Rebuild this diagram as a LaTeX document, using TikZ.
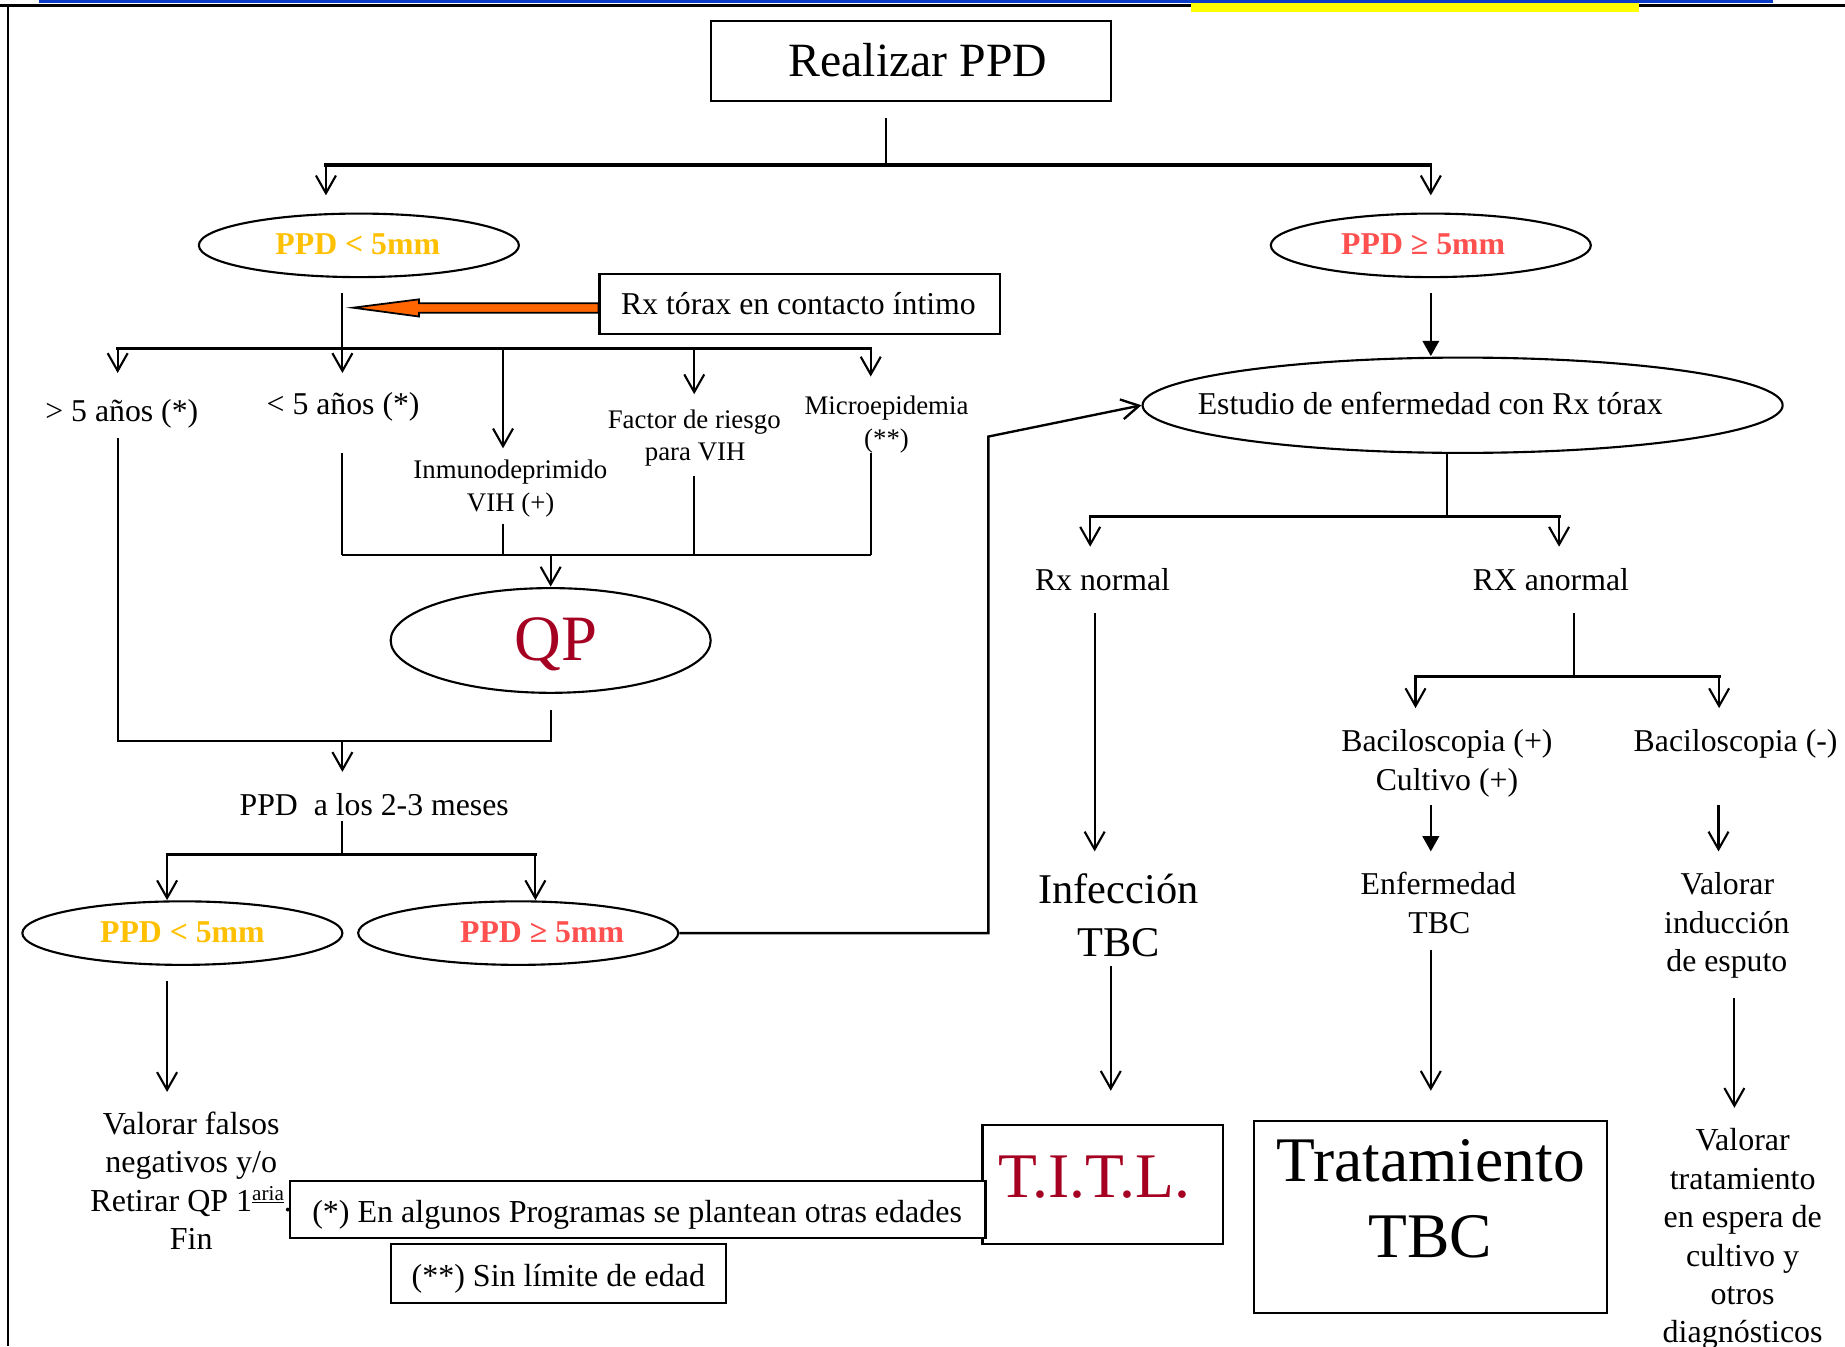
\documentclass[tikz,border=0pt]{standalone}
\usepackage{fontspec}
\setmainfont{Liberation Serif}
\usetikzlibrary{shapes.geometric,arrows.meta}
\definecolor{ytxt}{HTML}{FFC000}
\definecolor{rtxt}{HTML}{FF5050}
\definecolor{drtxt}{HTML}{A50021}
\definecolor{orarrow}{HTML}{FF6600}
\definecolor{topblue}{HTML}{0A3CC8}
\definecolor{topyellow}{HTML}{FFFF00}
\newcommand\fsz[1]{\fontsize{#1}{#1}\selectfont}
\begin{document}
\begin{tikzpicture}[x=1pt,y=-1pt,
  txt/.style={inner sep=0pt,anchor=base,font=\fsz{27}},
  stxt/.style={inner sep=0pt,anchor=base,font=\fsz{22.8}},
  btxt/.style={inner sep=0pt,anchor=base,font=\fsz{27.2}},
  frame/.style={draw,line width=1.8pt,inner sep=0pt,fill=white},
  ell/.style={draw,ellipse,line width=1.8pt,inner sep=0pt},
  vl/.style={line width=1.7pt},
  hl/.style={line width=2.6pt,line cap=rect},
  ar/.style={line width=1.8pt,-{Straight Barb[length=15pt,width=17pt]}},
  far/.style={line width=2pt,-{Triangle[length=13pt,width=14pt]}},
  ppdy/.style={txt,font=\bfseries\fsz{27},text=ytxt},
  ppdr/.style={txt,font=\bfseries\fsz{27},text=rtxt}
]
\useasboundingbox (0,0) rectangle (1568,1144);
\fill[white] (0,0) rectangle (1568,1144);

% top decoration and frame
\draw[line width=2pt] (0,4.6) -- (1568,4.6);
\fill[topblue] (33,0) rectangle (1507,2.9);
\fill[topyellow] (1012,2.9) rectangle (1393,9.9);
\draw[line width=1.8pt] (7,4) -- (7,1144);

% ---------- nodes ----------
\node[frame,minimum width=340pt,minimum height=68pt] (realbox) at (774,52) {};
\node[txt,font=\fsz{40.6}] (realtxt) at (780,65.2) {Realizar PPD};

\node[ell,minimum width=272pt,minimum height=54pt] (e1) at (305,208.5) {};
\node[ppdy] (e1t) at (304,216.2) {PPD < 5mm};
\node[ell,minimum width=272pt,minimum height=54pt] (e2) at (1216,208.5) {};
\node[ppdr] (e2t) at (1209.5,216.5) {PPD ≥ 5mm};

\node[frame,minimum width=340pt,minimum height=51pt] (rxbox) at (679.5,258.4) {};
\node[txt] (rxt) at (678.5,267.3) {Rx tórax en contacto íntimo};

\node[txt] (g5) at (103.5,358) {> 5 años (*)};
\node[txt] (l5) at (291.6,352.3) {< 5 años (*)};
\node[stxt] (inm1) at (433.7,407) {Inmunodeprimido};
\node[stxt] (inm2) at (434,434.4) {VIH (+)};
\node[stxt] (fac1) at (590,364) {Factor de riesgo};
\node[stxt] (fac2) at (590.8,391.4) {para VIH};
\node[stxt] (mic1) at (753.4,352.3) {Microepidemia};
\node[stxt] (mic2) at (753.4,380.6) {(**)};

\node[ell,minimum width=272pt,minimum height=89pt] (qp) at (468,544.3) {};
\node[txt,font=\fsz{55},text=drtxt] (qpt) at (472.4,561.3) {QP};

\node[txt] (ppd23) at (318,693) {PPD\ \ a los 2-3 meses};

\node[ell,minimum width=272pt,minimum height=54pt] (e3) at (155,793) {};
\node[ppdy] (e3t) at (155,800.9) {PPD < 5mm};
\node[ell,minimum width=272pt,minimum height=54pt] (e4) at (440.4,793) {};
\node[ppdr] (e4t) at (460.7,800.9) {PPD ≥ 5mm};

\node[ell,minimum width=544pt,minimum height=81pt] (est) at (1243,344.4) {};
\node[txt] (estt) at (1215.5,352.3) {Estudio de enfermedad con Rx tórax};

\node[txt] (rxn) at (937,501.6) {Rx normal};
\node[txt] (rxa) at (1318,501.6) {RX anormal};
\node[txt] (bp1) at (1229.7,638.4) {Baciloscopia (+)};
\node[txt] (bp2) at (1229.7,671.5) {Cultivo (+)};
\node[txt] (bn) at (1475,638.4) {Baciloscopia (-)};

\node[txt,font=\fsz{36}] (inf1) at (950.5,768) {Infección};
\node[txt,font=\fsz{36}] (inf2) at (950.7,812.7) {TBC};
\node[txt] (enf1) at (1222.4,760.5) {Enfermedad};
\node[txt] (enf2) at (1223.2,793.3) {TBC};
\node[txt] (vi1) at (1468,760.5) {Valorar};
\node[txt] (vi2) at (1467.6,793.3) {inducción};
\node[txt] (vi3) at (1467.6,825.5) {de esputo};

\node[frame,minimum width=204pt,minimum height=101pt] (titlbox) at (937,1006.5) {};
\node[txt,font=\fsz{54}] (titl) at (930,1018) {\color{drtxt}T.I.T.L.};
\node[frame,minimum width=300pt,minimum height=163pt] (tratbox) at (1216,1034.5) {};
\node[txt,font=\fsz{54}] (trat1) at (1216,1004.4) {Tratamiento};
\node[txt,font=\fsz{54}] (trat2) at (1215.6,1068.8) {TBC};

\node[btxt] (vt1) at (1481,977.5) {Valorar};
\node[btxt] (vt2) at (1481,1010.5) {tratamiento};
\node[btxt] (vt3) at (1481,1043.5) {en espera de};
\node[btxt] (vt4) at (1481,1076) {cultivo y};
\node[btxt] (vt5) at (1481,1108.5) {otros};
\node[btxt] (vt6) at (1481,1141) {diagnósticos};

\node[btxt] (vf1) at (162.5,964) {Valorar falsos};
\node[btxt] (vf2) at (162.5,996.7) {negativos y/o};
\node[btxt] (vf3) at (162.5,1029.3) {Retirar QP 1\raisebox{9pt}{\fsz{18}\underline{aria}}.};
\node[btxt] (vf4) at (162.5,1062) {Fin};

\node[frame,minimum width=591pt,minimum height=49pt] (n1box) at (542,1027.9) {};
\node[btxt] (n1) at (541.5,1039) {(*) En algunos Programas se plantean otras edades};
\node[frame,minimum width=285pt,minimum height=50.4pt] (n2box) at (474.5,1082.4) {};
\node[btxt] (n2) at (474.5,1093) {(**) Sin límite de edad};

% ---------- coordinates ----------
\coordinate (a0) at (753,100); \coordinate (a1) at (753,140.2);
\coordinate (aL) at (277,140.2); \coordinate (aR) at (1216,140.2);
\coordinate (aLt) at (277,166); \coordinate (aRt) at (1216,166);

\coordinate (b0) at (291,249); \coordinate (b1) at (291,296); \coordinate (bt) at (291,317);
\coordinate (bA) at (100,296); \coordinate (bAt) at (100,317);
\coordinate (bC) at (427.5,296); \coordinate (bCt) at (427.5,381);
\coordinate (bD) at (590,296); \coordinate (bDt) at (590,335);
\coordinate (bE) at (740,296); \coordinate (bEt) at (740,320);

\coordinate (c1) at (100,372); \coordinate (c2) at (291,385); \coordinate (c3) at (427.5,445);
\coordinate (c4) at (590,404.5); \coordinate (c5) at (740,385);
\coordinate (cB2) at (291,472); \coordinate (cB3) at (427.5,472); \coordinate (cB4) at (590,472);
\coordinate (cB5) at (740,472); \coordinate (cq) at (468,472); \coordinate (cqt) at (468,498.5);

\coordinate (d0) at (468,603); \coordinate (d1) at (468,630); \coordinate (d2) at (100,630);
\coordinate (dm) at (291,630); \coordinate (dmt) at (291,656);

\coordinate (f0) at (291,698); \coordinate (f1) at (291,726);
\coordinate (fL) at (142,726); \coordinate (fR) at (455,726);
\coordinate (fLt) at (142,765); \coordinate (fRt) at (455,765);

\coordinate (g0) at (142,834); \coordinate (gt) at (142,928);
\coordinate (h1) at (840,793); \coordinate (h2) at (840,371);

\coordinate (i0) at (1216,249); \coordinate (it) at (1216,302.6);
\coordinate (j0) at (1229.7,385); \coordinate (j1) at (1229.7,439);
\coordinate (jL) at (926.5,439); \coordinate (jR) at (1325,439);
\coordinate (jLt) at (926.5,464.6); \coordinate (jRt) at (1325,464.6);
\coordinate (k0) at (930.3,521); \coordinate (kt) at (930.3,723.6);
\coordinate (l0) at (1338,521); \coordinate (l1) at (1338,575);
\coordinate (lL) at (1203,575); \coordinate (lR) at (1461,575);
\coordinate (lLt) at (1203,601.8); \coordinate (lRt) at (1461,601.8);
\coordinate (m0) at (1216,684.4); \coordinate (mt) at (1216,723.6);
\coordinate (n0) at (1460.5,684.4); \coordinate (nt) at (1460.5,723.6);
\coordinate (o0) at (944,821); \coordinate (ot) at (944,927);
\coordinate (p0) at (1216,807); \coordinate (pt) at (1216,927);
\coordinate (q0) at (1474,848); \coordinate (qt) at (1474,941.5);

% ---------- connectors ----------
\draw[vl] (a0) -- (a1);
\draw[hl] (aL) -- (aR);
\draw[ar] (aL) -- (aLt);
\draw[ar] (aR) -- (aRt);

% orange arrow
\draw[fill=orarrow,line width=1.5pt,line join=miter]
  (rxbox.west |- 0,257.8) -- (356,257.8) -- (356,254.4) -- (300,261.5)
  -- (356,269) -- (356,265.7) -- (rxbox.west |- 0,265.7) -- cycle;

\draw[vl] (b0) -- (b1);
\draw[hl] (bA) -- (bE);
\draw[ar] (b1) -- (bt);
\draw[ar] (bA) -- (bAt);
\draw[ar] (bC) -- (bCt);
\draw[ar] (bD) -- (bDt);
\draw[ar] (bE) -- (bEt);

\draw[vl] (c2) -- (cB2);
\draw[vl] (c3) -- (cB3);
\draw[vl] (c4) -- (cB4);
\draw[vl] (c5) -- (cB5);
\draw[vl] (cB2) -- (cB5);
\draw[ar] (cq) -- (cqt);

\draw[vl] (c1) -- (d2) -- (d1) -- (d0);
\draw[ar] (dm) -- (dmt);

\draw[vl] (f0) -- (f1);
\draw[hl] (fL) -- (fR);
\draw[ar] (fL) -- (fLt);
\draw[ar] (fR) -- (fRt);
\draw[ar] (g0) -- (gt);

\draw[line width=2pt,-{Straight Barb[length=15pt,width=17pt]}] (e4.east) -- (h1) -- (h2) -- (est.west);

\draw[far] (i0) -- (it);
\draw[vl] (j0) -- (j1);
\draw[hl] (jL) -- (jR);
\draw[ar] (jL) -- (jLt);
\draw[ar] (jR) -- (jRt);
\draw[ar] (k0) -- (kt);
\draw[vl] (l0) -- (l1);
\draw[hl] (lL) -- (lR);
\draw[ar] (lL) -- (lLt);
\draw[ar] (lR) -- (lRt);
\draw[far] (m0) -- (mt);
\draw[ar] (n0) -- (nt);
\draw[ar] (o0) -- (ot);
\draw[ar] (p0) -- (pt);
\draw[ar] (q0) -- (qt);
\end{tikzpicture}
\end{document}
